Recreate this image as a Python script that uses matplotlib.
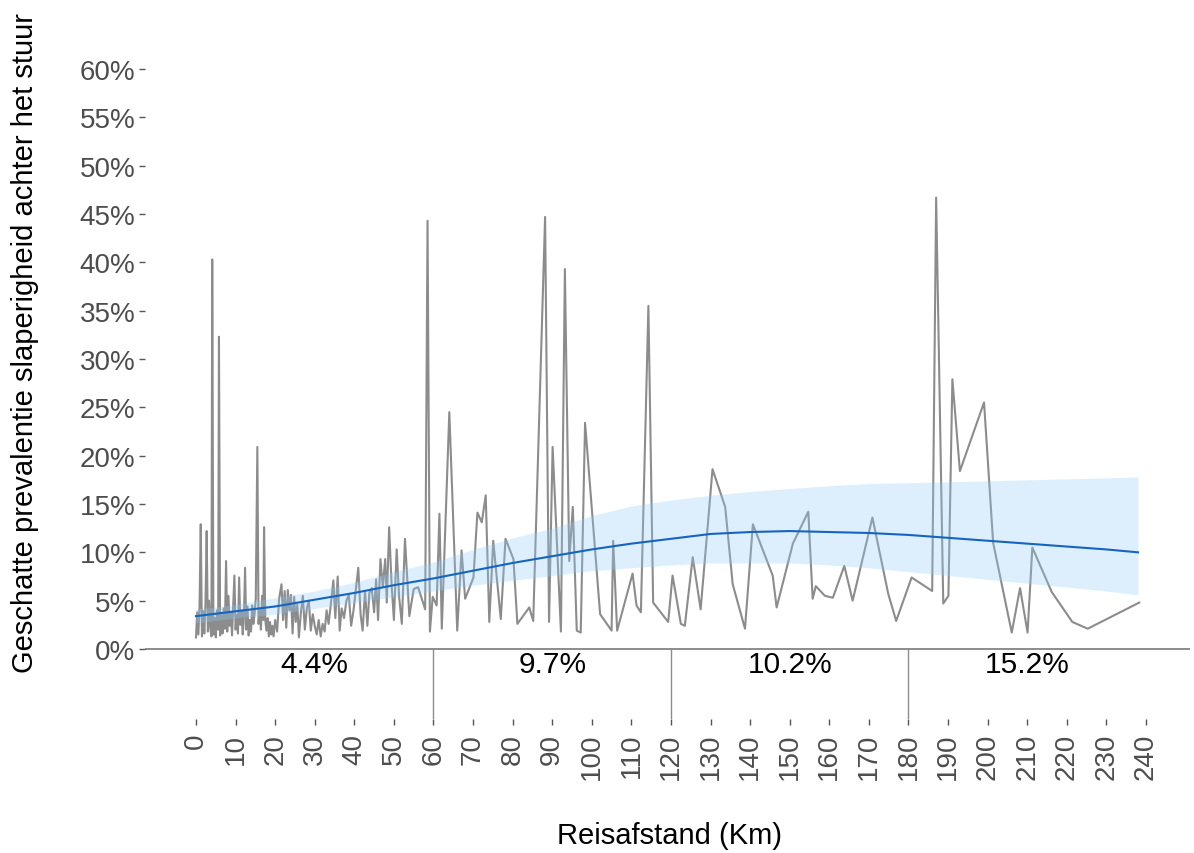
import matplotlib
matplotlib.use('Agg')
import matplotlib.pyplot as plt

plt.rcParams['font.family'] = ['Liberation Sans', 'DejaVu Sans']

# ---- observed prevalence per trip distance (gray line) ----
dist_km = [0.0, 0.3, 0.6, 0.9, 1.2, 1.5, 1.8, 2.1, 2.4, 2.7, 3.0, 3.3, 3.6, 3.9, 4.1, 4.4, 4.7, 5.0,
           5.3, 5.6, 5.8, 6.1, 6.4, 6.7, 7.0, 7.3, 7.6, 7.9, 8.2, 8.5, 8.8, 9.1, 9.4, 9.7, 10.0,
           10.3, 10.6, 10.9, 11.2, 11.5, 11.8, 12.1, 12.4, 12.7, 13.0, 13.3, 13.6, 13.9, 14.2,
           14.5, 14.8, 15.1, 15.5, 15.8, 16.1, 16.4, 16.7, 17.0, 17.2, 17.5, 17.8, 18.1, 18.4,
           18.7, 19.0, 19.3, 19.6, 20.0, 20.5, 21.0, 21.6, 22.0, 22.4, 22.8, 23.2, 23.6, 24.0,
           24.4, 24.8, 25.2, 25.6, 26.0, 26.5, 27.0, 27.5, 28.0, 28.5, 29.0, 29.5, 30.0, 30.5,
           31.0, 31.5, 32.0, 32.5, 33.0, 33.5, 34.0, 34.7, 35.2, 35.8, 36.3, 36.8, 37.4, 38.0,
           38.6, 39.2, 39.8, 40.2, 41.0, 41.6, 42.1, 42.7, 43.3, 43.8, 44.4, 45.0, 45.5, 46.0,
           46.6, 47.2, 47.8, 48.2, 48.8, 49.4, 50.0, 50.7, 51.3, 52.0, 52.8, 53.9, 55.0, 56.1,
           57.9, 58.5, 59.1, 59.8, 60.8, 61.5, 62.1, 64.0, 66.0, 67.1, 68.0, 70.1, 71.1, 72.2,
           73.2, 74.1, 75.1, 77.0, 78.2, 80.2, 81.2, 84.2, 85.2, 88.2, 89.2, 90.1, 92.2, 93.2,
           94.3, 95.2, 96.2, 97.2, 98.3, 102.1, 105.0, 105.4, 106.4, 110.3, 111.3, 112.4, 114.3,
           115.5, 119.3, 120.4, 122.5, 123.5, 125.5, 127.5, 130.5, 133.7, 135.6, 138.7, 140.7,
           145.7, 146.7, 150.8, 154.7, 155.8, 156.6, 158.9, 160.9, 163.8, 165.9, 170.9, 174.9,
           176.9, 180.8, 186.0, 187.0, 188.8, 190.1, 191.1, 193.0, 199.1, 201.4, 206.1, 208.2,
           210.1, 211.3, 216.2, 221.4, 225.3, 238.3]
prev_pct = [1.2, 3.8, 1.5, 4.5, 12.9, 1.3, 3.9, 1.6, 4.8, 12.2, 1.8, 5.0, 2.2, 1.3, 40.3, 1.5, 3.2, 1.2,
            4.0, 2.0, 32.3, 1.4, 3.5, 1.6, 4.2, 2.1, 9.1, 1.8, 5.5, 2.4, 3.8, 1.4, 4.6, 7.6, 2.0,
            3.5, 1.6, 7.4, 2.5, 4.0, 1.5, 3.2, 8.4, 2.0, 4.4, 1.4, 3.0, 1.8, 4.5,
            2.6, 3.6, 5.2, 20.9, 2.6, 4.0, 2.0, 5.5, 3.0, 12.6, 3.0, 1.9, 3.2, 1.3,
            2.8, 1.5, 2.4, 1.3, 3.0, 1.8, 5.2, 6.7, 3.0, 6.0, 2.2, 6.1, 4.0, 5.6,
            1.6, 5.4, 2.8, 4.6, 1.2, 3.8, 5.5, 2.0, 4.2, 5.0, 1.9, 3.6, 2.4, 1.5,
            3.0, 1.3, 2.6, 1.8, 4.0, 2.6, 4.4, 7.1, 3.2, 7.5, 1.9, 4.2, 3.2, 5.0,
            5.6, 2.4, 4.0, 5.5, 8.4, 3.5, 1.9, 6.0, 2.4, 5.8, 6.3, 3.8, 7.2, 3.0,
            9.3, 6.4, 9.3, 4.8, 12.6, 6.8, 3.0, 10.3, 5.5, 2.6, 11.4, 3.4, 6.2, 6.4,
            4.1, 44.3, 1.8, 5.4, 4.5, 14.0, 2.1, 24.5, 1.9, 10.2, 5.2, 7.4, 14.1, 13.1,
            15.9, 2.8, 11.2, 3.1, 11.4, 9.3, 2.6, 4.3, 2.9, 44.7, 2.8, 20.9, 1.8, 39.3,
            9.1, 14.7, 1.9, 1.7, 23.4, 3.6, 1.9, 11.2, 1.9, 7.8, 4.5, 3.8, 35.5,
            4.8, 2.8, 7.6, 2.6, 2.4, 9.5, 4.1, 18.6, 14.7, 6.7, 2.1, 12.9,
            7.6, 4.3, 10.9, 14.2, 5.2, 6.5, 5.5, 5.3, 8.6, 5.0, 13.6, 5.7,
            2.9, 7.4, 6.0, 46.7, 4.7, 5.5, 27.9, 18.4, 25.5, 11.0, 1.7, 6.3,
            1.7, 10.5, 5.9, 2.8, 2.1, 4.8]

# ---- smoothed estimate with confidence band (blue) ----
fit_km = [0, 10, 20, 30, 40, 50, 60, 70, 80, 90, 100, 110, 120, 130, 140, 150, 160, 170, 180,
          190, 200, 210, 220, 230, 238]
fit_pct = [3.4, 3.9, 4.4, 5.1, 5.8, 6.6, 7.3, 8.1, 8.9, 9.6, 10.3, 10.9, 11.4, 11.9, 12.1, 12.2,
           12.1, 12.0, 11.8, 11.5, 11.2, 10.9, 10.6, 10.3, 10.0]
fit_lo = [2.7, 3.2, 3.6, 4.2, 4.8, 5.4, 6.0, 6.6, 7.1, 7.6, 8.1, 8.4, 8.7, 8.9, 8.9, 8.9,
          8.7, 8.4, 8.0, 7.6, 7.2, 6.8, 6.4, 6.0, 5.6]
fit_hi = [4.1, 4.6, 5.3, 6.0, 6.9, 8.0, 9.0, 10.3, 11.5, 12.5, 13.8, 14.8, 15.4, 15.9, 16.3, 16.6,
          16.9, 17.1, 17.2, 17.3, 17.4, 17.5, 17.6, 17.7, 17.8]

# ---- distance-bin annotations ----
bin_centers = [30, 90, 150, 210]
bin_labels = ['4.4%', '9.7%', '10.2%', '15.2%']
bin_edges = [60, 120, 180]

x_ticks = [0, 10, 20, 30, 40, 50, 60, 70, 80, 90, 100, 110, 120, 130, 140, 150, 160, 170, 180,
           190, 200, 210, 220, 230, 240]
y_ticks = [0, 5, 10, 15, 20, 25, 30, 35, 40, 45, 50, 55, 60]

W, H = 1194, 854
fig = plt.figure(figsize=(W / 100, H / 100), dpi=100)
px_per_km = 3.958
px_per_pct = 9.667
x0_px, y0_px = 196, 650
ax_l, ax_r, ax_t, ax_b = 145, 1190, 40, 720
ax = fig.add_axes([ax_l / W, 1 - ax_b / H, (ax_r - ax_l) / W, (ax_b - ax_t) / H])
ax.set_xlim((ax_l - x0_px) / px_per_km, (ax_r - x0_px) / px_per_km)
ax.set_ylim((y0_px - ax_b) / px_per_pct, (y0_px - ax_t) / px_per_pct)

ax.plot(dist_km, prev_pct, color='#8c8c8c', lw=1.5, zorder=2)
ax.fill_between(fit_km, fit_lo, fit_hi, color='#90caf9', alpha=0.3, lw=0, zorder=3)
ax.plot(fit_km, fit_pct, color='#1565c0', lw=1.5, zorder=4)

ax.axhline(0, color='#8c8c8c', lw=1.4, zorder=1)
ymin = ax.get_ylim()[0]
for e in bin_edges:
    ax.plot([e, e], [0, ymin], color='#8c8c8c', lw=1.0, zorder=1)
for c, lab in zip(bin_centers, bin_labels):
    ax.text(c, -1.55, lab, ha='center', va='center', fontsize=21.5, color='black')

for s in ax.spines.values():
    s.set_visible(False)

ax.set_xticks(x_ticks)
ax.set_xticklabels([str(v) for v in x_ticks], rotation=90, fontsize=20, color='#4d4d4d')
ax.set_yticks(y_ticks)
ax.set_yticklabels([f'{v}%' for v in y_ticks], fontsize=20, color='#4d4d4d')
ax.tick_params(axis='both', length=4, width=1, color='#555555')
ax.tick_params(axis='x', pad=6)
ax.tick_params(axis='y', pad=3)

fig.text(670 / W, 1 - 836 / H, 'Reisafstand (Km)', ha='center', va='center', fontsize=21)
fig.text(25 / W, 1 - 343 / H, 'Geschatte prevalentie slaperigheid achter het stuur',
         ha='center', va='center', rotation=90, fontsize=21)

fig.savefig('out.png', dpi=100)
